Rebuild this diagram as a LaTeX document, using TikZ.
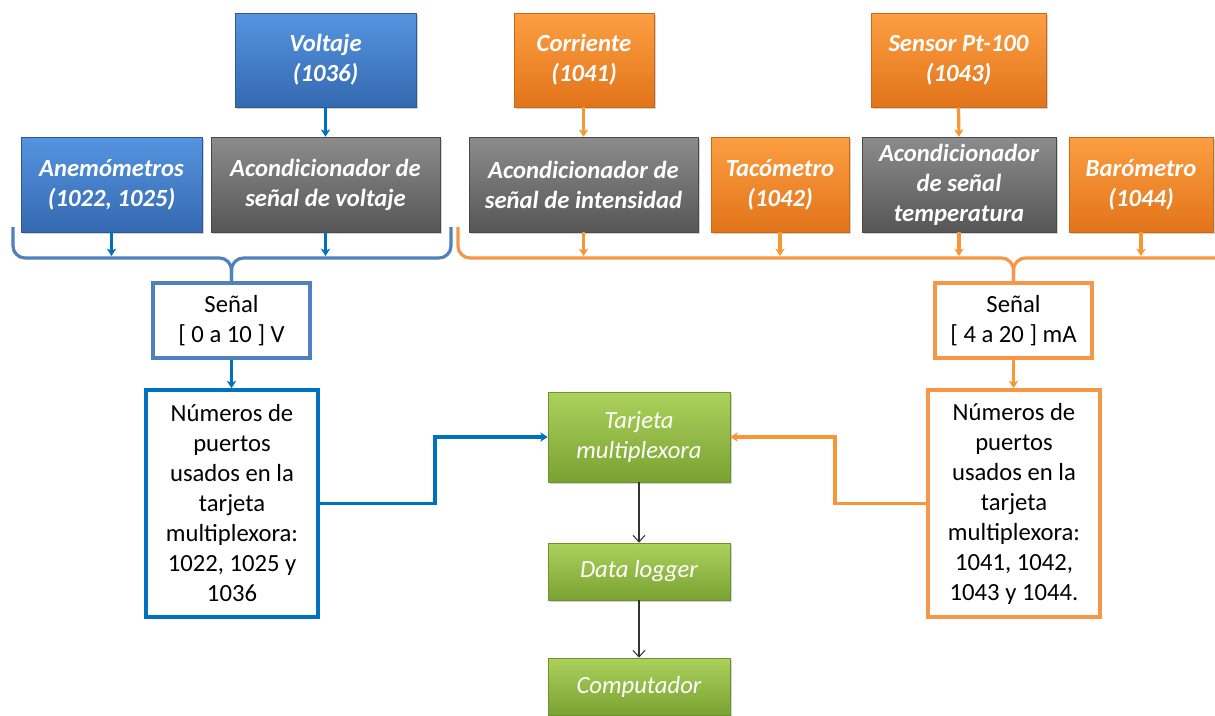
\documentclass[tikz,border=0pt]{standalone}
\usepackage{fontspec}
\setmainfont{Carlito}
\usetikzlibrary{arrows.meta,shadows,calc}
\definecolor{bluetop}{RGB}{86,148,224}
\definecolor{bluebot}{RGB}{52,105,176}
\definecolor{orgtop}{RGB}{253,158,66}
\definecolor{orgbot}{RGB}{226,116,26}
\definecolor{graytop}{RGB}{140,140,140}
\definecolor{graybot}{RGB}{86,86,86}
\definecolor{grntop}{RGB}{172,210,92}
\definecolor{grnbot}{RGB}{122,162,50}
\definecolor{cblue}{RGB}{0,112,192}
\definecolor{sblue}{RGB}{79,129,189}
\definecolor{corange}{RGB}{247,150,50}
\definecolor{sorange}{RGB}{247,150,70}
\tikzset{
  txt/.style={font=\fontsize{18.5}{22.5}\selectfont},
  cbox/.style={rectangle, inner sep=2pt, align=center, text=white,
    font=\bfseries\itshape\fontsize{18.5}{22.5}\selectfont,
    drop shadow={opacity=0.35, shadow xshift=1.5pt, shadow yshift=-1.5pt}},
  bluebox/.style={cbox, top color=bluetop, bottom color=bluebot, draw=bluebot!85!black, line width=0.4pt},
  orangebox/.style={cbox, top color=orgtop, bottom color=orgbot, draw=orgbot!90!black, line width=0.4pt},
  graybox/.style={cbox, top color=graytop, bottom color=graybot, draw=graybot!85!black, line width=0.4pt},
  greenbox/.style={cbox, top color=grntop, bottom color=grnbot, draw=grnbot!90!black, line width=0.4pt,
    font=\itshape\fontsize{18.5}{22.5}\selectfont, minimum width=136.5pt},
  sigbox/.style={rectangle, fill=white, align=center, txt, minimum width=117.75pt, minimum height=56.25pt, line width=2.6pt, inner sep=1pt},
  numbox/.style={rectangle, fill=white, align=center, txt, minimum width=129pt, minimum height=170.25pt, line width=2.8pt, inner sep=1pt},
  barrow/.style={draw=cblue, line width=2.4pt, -{Stealth[length=5.5pt,width=7pt,inset=1.5pt]}},
  oarrow/.style={draw=corange, line width=2.4pt, -{Stealth[length=5.5pt,width=7pt,inset=1.5pt]}},
  karrow/.style={draw=black!80, line width=0.8pt, -{Straight Barb[length=5pt,width=9pt]}},
  bluebrace/.style={draw=sblue, line width=2.4pt, rounded corners=9pt},
  orangebrace/.style={draw=sorange, line width=2.4pt, rounded corners=9pt},
}
\begin{document}
\begin{tikzpicture}[x=0.75pt,y=-0.75pt]
\useasboundingbox[fill=white] (0,0) rectangle (1215,715);

% top row
\node[bluebox, minimum width=135.75pt, minimum height=70.5pt] (volt) at (325.5,60) {Voltaje\\(1036)};
\node[orangebox, minimum width=105pt, minimum height=70.5pt] (corr) at (584,60) {Corriente\\(1041)};
\node[orangebox, minimum width=131.25pt, minimum height=70.5pt] (pt) at (958.5,60) {Sensor Pt-100\\(1043)};

% second row
\node[bluebox, minimum width=135.75pt, minimum height=71.25pt] (anem) at (111.5,184.5) {Anemómetros\\(1022, 1025)};
\node[graybox, minimum width=171.75pt, minimum height=71.25pt] (acv) at (325.5,184.5) {Acondicionador de\\señal de voltaje};
\node[graybox, minimum width=171.75pt, minimum height=71.25pt] (aci) at (583.5,184.5) {Acondicionador de\\señal de intensidad};
\node[orangebox, minimum width=103.5pt, minimum height=71.25pt] (tac) at (780,184.5) {Tacómetro\\(1042)};
\node[graybox, minimum width=145.5pt, minimum height=71.25pt] (act) at (959,184.5) {Acondicionador\\de señal\\temperatura};
\node[orangebox, minimum width=108pt, minimum height=71.25pt] (bar) at (1141,184.5) {Barómetro\\(1044)};

% signal boxes
\node[sigbox, draw=sblue] (sigb) at (231.5,320.5) {Señal\\{[} 0 a 10 {]} V};
\node[sigbox, draw=sorange] (sigo) at (1013.5,320.5) {Señal\\{[} 4 a 20 {]} mA};
\node[numbox, draw=cblue] (numb) at (232,503.5) {Números de\\puertos\\usados en la\\tarjeta\\multiplexora:\\1022, 1025 y\\1036};
\node[numbox, draw=sorange] (numo) at (1014,503.5) {Números de\\puertos\\usados en la\\tarjeta\\multiplexora:\\1041, 1042,\\1043 y 1044.};

% green
\node[greenbox, minimum height=67.5pt] (tarj) at (639,437) {Tarjeta\\multiplexora};
\node[greenbox, minimum height=42.75pt] (dl) at (639,571.5) {Data logger};
\node[greenbox, minimum height=42.75pt] (comp) at (639,686.5) {Computador};

% braces
\coordinate (bl) at (13,227);
\coordinate (br) at (451,227);
\coordinate (ol) at (458,227);
\coordinate (or) at (1240,227);
\draw[bluebrace] (bl) |- (sigb.north |- 0,258) -- (sigb.north);
\draw[bluebrace] (br) |- (sigb.north |- 0,258) -- (sigb.north);
\draw[orangebrace] (ol) |- (sigo.north |- 0,258) -- (sigo.north);
\draw[orangebrace] (or) |- (sigo.north |- 0,258) -- (sigo.north);

% arrows top
\draw[barrow] (volt.south) -- (acv.north);
\draw[oarrow] (corr.south -| aci.north) -- (aci.north);
\draw[oarrow] (pt.south) -- (act.north);

% arrows into braces
\draw[barrow] (anem.south) -- (anem.south |- 0,256);
\draw[barrow] (acv.south) -- (acv.south |- 0,256);
\draw[oarrow] (aci.south) -- (aci.south |- 0,256);
\draw[oarrow] (tac.south) -- (tac.south |- 0,256);
\draw[oarrow] (act.south) -- (act.south |- 0,256);
\draw[oarrow] (bar.south) -- (bar.south |- 0,256);

% signal to numbers
\draw[barrow] (sigb.south) -- (sigb.south |- numb.north);
\draw[oarrow] (sigo.south) -- (sigo.south |- numo.north);

% to multiplexer
\draw[barrow] (numb.east) -| (435,437) -- (tarj.west);
\draw[oarrow] (numo.west) -| (835,437) -- (tarj.east);

% green chain
\draw[karrow] (tarj.south) -- (dl.north);
\draw[karrow] (dl.south) -- (comp.north);
\end{tikzpicture}
\end{document}
